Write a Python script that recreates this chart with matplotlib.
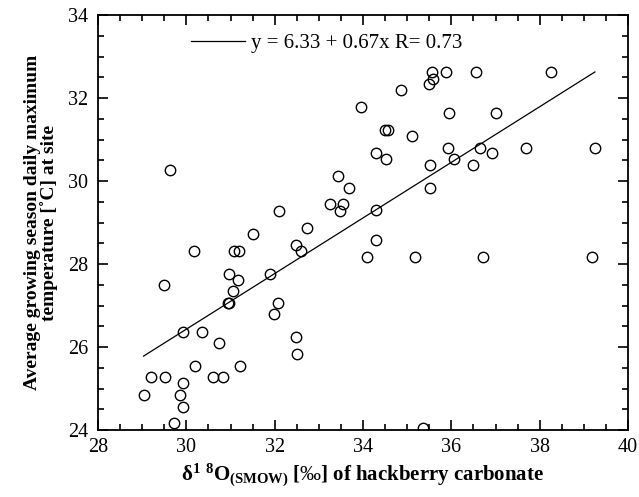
import numpy as np
import matplotlib
matplotlib.use("Agg")
import matplotlib.pyplot as plt
from matplotlib.ticker import MultipleLocator

plt.rcParams['font.family'] = ['Liberation Serif', 'DejaVu Serif']
plt.rcParams['mathtext.fontset'] = 'custom'
plt.rcParams['mathtext.rm'] = 'Liberation Serif'
plt.rcParams['mathtext.bf'] = 'Liberation Serif:bold'
plt.rcParams['mathtext.it'] = 'Liberation Serif:italic'

# d18O of hackberry carbonate vs. growing season max temperature
d18o = [33.95, 29.64, 33.43, 33.69, 33.25, 33.54, 33.48, 32.09, 32.74,
        35.56, 35.59, 35.50, 35.88, 36.56, 38.25, 34.85, 35.95, 37.00,
        34.49, 34.56, 35.12, 34.29, 34.53, 35.92, 36.66, 36.93, 37.70,
        39.25, 36.07, 35.51, 36.49, 35.51, 34.29,
        31.52, 32.48, 32.59, 30.17, 31.09, 31.19, 34.08, 31.89, 30.97,
        31.18, 29.49, 31.06, 30.94, 30.97, 32.08, 31.99, 29.92, 30.36,
        30.74, 32.49, 32.51, 30.20, 31.21, 29.20, 29.51, 30.60, 30.83,
        29.92, 29.03, 29.86, 29.92, 29.72,
        34.29, 35.17, 36.72, 39.18, 35.35]
temp = [31.78, 30.26, 30.12, 29.84, 29.44, 29.44, 29.28, 29.28, 28.87,
        32.63, 32.47, 32.34, 32.63, 32.63, 32.63, 32.20, 31.65, 31.65,
        31.24, 31.24, 31.09, 30.67, 30.54, 30.80, 30.80, 30.67, 30.80,
        30.80, 30.54, 30.39, 30.39, 29.84, 29.29,
        28.73, 28.47, 28.32, 28.32, 28.32, 28.32, 28.18, 27.76, 27.76,
        27.62, 27.49, 27.35, 27.06, 27.06, 27.06, 26.79, 26.37, 26.37,
        26.09, 26.24, 25.82, 25.55, 25.55, 25.27, 25.27, 25.27, 25.27,
        25.13, 24.84, 24.84, 24.56, 24.17,
        28.59, 28.18, 28.18, 28.18, 24.04]

a, b = 6.33, 0.67
fit_label = 'y = 6.33 + 0.67x R= 0.73'

fig = plt.figure(figsize=(6.39, 4.97), dpi=100)
ax = fig.add_axes([0.1534, 0.1348, 0.8294, 0.835])

ax.plot(d18o, temp, 'o', mfc='none', mec='black', mew=1.0, ms=7.5)

xfit = np.array([min(d18o), max(d18o)])
ax.plot(xfit, a + b * xfit, 'k-', lw=0.9, label=fit_label)

ax.set_xlim(28, 40)
ax.set_ylim(24, 34)
ax.xaxis.set_major_locator(MultipleLocator(2))
ax.xaxis.set_minor_locator(MultipleLocator(0.5))
ax.yaxis.set_major_locator(MultipleLocator(2))
ax.yaxis.set_minor_locator(MultipleLocator(0.5))
ax.tick_params(which='both', direction='in', top=True, right=True,
               labelsize=14.5, width=1.2)
ax.tick_params(which='major', length=7)
ax.tick_params(which='minor', length=4)
ax.tick_params(axis='y', pad=7)
ax.tick_params(axis='x', pad=6)
for s in ax.spines.values():
    s.set_linewidth(1.3)

ax.set_xlabel('δ$^{\\mathbf{1}}$ $^{\\mathbf{8}}$O$_{\\mathbf{(SMOW)}}$ [$\\mathit{‰}$] of hackberry carbonate',
              fontsize=15, fontweight='bold', labelpad=3)
ax.set_ylabel('Average growing season daily maximum\ntemperature [˚C] at site',
              fontsize=14, fontweight='bold', labelpad=7, linespacing=0.95)

ax.legend(loc='upper left', bbox_to_anchor=(0.14, 1.0), frameon=False,
          fontsize=15, handlelength=2.6, handletextpad=0.3)

fig.savefig('out.png', dpi=100)
